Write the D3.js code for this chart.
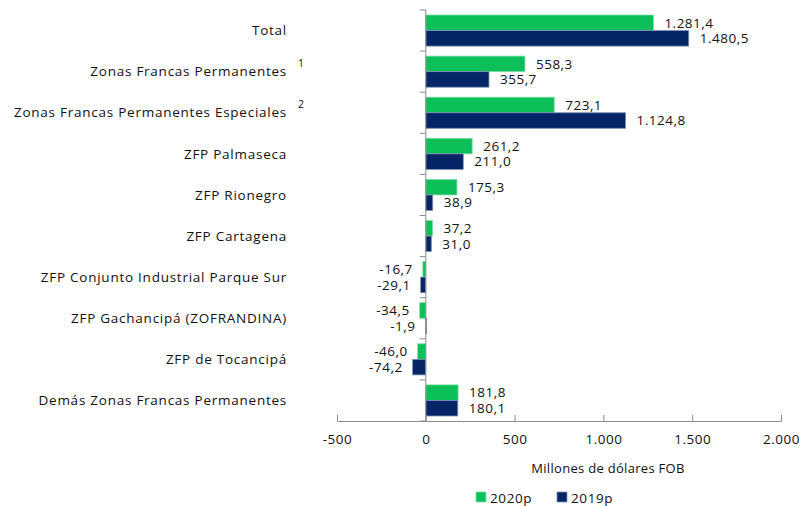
<!DOCTYPE html>
<html><head><meta charset="utf-8">
<script src="https://cdn.jsdelivr.net/npm/d3@7"></script>
<style>
html,body{margin:0;padding:0;background:#fff;}
svg{display:block;font-family:"Open Sans","Noto Sans",sans-serif;}
</style></head>
<body><svg id="c" width="802" height="506"></svg>
<script>
const categories = ["Total","Zonas Francas Permanentes","Zonas Francas Permanentes Especiales","ZFP Palmaseca","ZFP Rionegro","ZFP Cartagena","ZFP Conjunto Industrial Parque Sur","ZFP Gachancipá (ZOFRANDINA)","ZFP de Tocancipá","Demás Zonas Francas Permanentes"];
const footnotes = ["","1","2","","","","","","",""];
const values2020 = [1281.4,558.3,723.1,261.2,175.3,37.2,-16.7,-34.5,-46.0,181.8];
const values2019 = [1480.5,355.7,1124.8,211.0,38.9,31.0,-29.1,-1.9,-74.2,180.1];
const seriesNames = ["2020p","2019p"];
const xTicks = [-500,0,500,1000,1500,2000];
const axisTitle = "Millones de dólares FOB";

const colors = ["#0CBF58","#062566"];
const strokes = ["#7FDFA6","#7D8FB8"];

const loc = d3.formatLocale({decimal:",",thousands:".",grouping:[3],currency:["",""],minus:"-"});
const fmtVal = loc.format(",.1f");
const fmtTick = loc.format(",d");

const svg = d3.select("#c");
const x = d3.scaleLinear().domain([-500,2000]).range([337,781]);
const y = d3.scaleBand().domain(categories).range([10,421]).padding(0);
const sub = d3.scaleBand().domain([0,1]).range([5, y.bandwidth()-5]).padding(0);
const axisColor = "#8C8C8C";

const series = [values2020, values2019];
const g = svg.append("g");

// bars
series.forEach((vals, si) => {
  g.selectAll(null).data(vals).enter().append("rect")
    .attr("x", d => x(Math.min(0,d)))
    .attr("width", d => Math.max(1, Math.abs(x(d)-x(0))))
    .attr("y", (d,i) => y(categories[i]) + sub(si))
    .attr("height", sub.bandwidth())
    .attr("fill", colors[si])
    .attr("stroke", strokes[si])
    .attr("stroke-width", 0.8);
  g.selectAll(null).data(vals).enter().append("text")
    .attr("x", d => d >= 0 ? x(d) + 11 : x(d) - 10)
    .attr("y", (d,i) => y(categories[i]) + sub(si) + sub.bandwidth()/2)
    .attr("dy", "0.35em")
    .attr("text-anchor", d => d >= 0 ? "start" : "end")
    .attr("font-size", 13.5)
    .attr("letter-spacing", 0.5)
    .attr("fill", "#111")
    .text(d => fmtVal(d));
});

// left axis line and ticks at band boundaries
const bounds = categories.map(c => y(c)).concat([y(categories[categories.length-1]) + y.bandwidth()]);
g.append("line").attr("x1", x(0)).attr("x2", x(0)).attr("y1", bounds[0]).attr("y2", bounds[bounds.length-1]).attr("stroke", axisColor);
g.selectAll(null).data(bounds).enter().append("line")
  .attr("x1", x(0)-6).attr("x2", x(0)).attr("y1", d=>d).attr("y2", d=>d).attr("stroke", axisColor);

// category labels
g.selectAll(null).data(categories).enter().append("text")
  .attr("x", 287).attr("y", c => y(c) + y.bandwidth()/2).attr("dy","0.35em")
  .attr("text-anchor","end").attr("font-size",13.5).attr("letter-spacing",0.75)
  .attr("fill","#111").text(c=>c);
g.selectAll(null).data(footnotes).enter().append("text")
  .attr("x", 301).attr("y", (f,i) => y(categories[i]) + y.bandwidth()/2 - 8).attr("dy","0.35em")
  .attr("text-anchor","middle").attr("font-size",10.5).attr("fill","#111").text(f=>f);

// bottom axis
const xa = svg.append("g").attr("transform","translate(0,421)")
  .call(d3.axisBottom(x).tickValues(xTicks).tickFormat(fmtTick).tickSize(-6).tickPadding(13));
xa.attr("font-family",null);
xa.select(".domain").attr("stroke", axisColor);
xa.selectAll(".tick line").attr("stroke", axisColor);
xa.selectAll(".tick text").attr("font-size",13.5).attr("letter-spacing",0.5).attr("fill","#111");

svg.append("text").attr("x", 608).attr("y", 468).attr("dy","0.35em").attr("text-anchor","middle")
  .attr("font-size",13).attr("fill","#111").attr("letter-spacing","0.3").text(axisTitle);

// legend
const legX = [476, 557];
seriesNames.forEach((n,i) => {
  svg.append("rect").attr("x", legX[i]).attr("y", 492).attr("width",10).attr("height",10)
    .attr("fill", colors[i]).attr("stroke", strokes[i]).attr("stroke-width",0.8);
  svg.append("text").attr("x", legX[i]+14).attr("y", 498).attr("dy","0.35em")
    .attr("font-size",13.5).attr("letter-spacing",0.6).attr("fill","#111").text(n);
});
</script></body></html>
